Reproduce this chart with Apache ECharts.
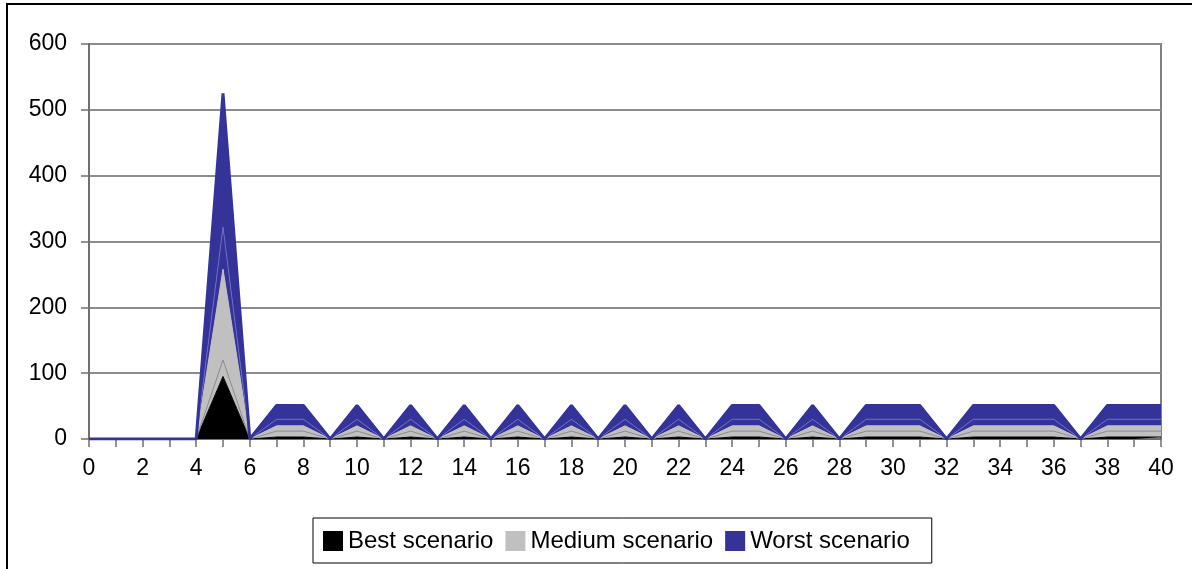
<!DOCTYPE html>
<html>
<head>
<meta charset="utf-8">
<script src="https://cdn.jsdelivr.net/npm/echarts@6/dist/echarts.min.js"></script>
<style>
  html, body { margin: 0; padding: 0; background: #fff; }
  #chart { width: 1192px; height: 569px; }
</style>
</head>
<body>
<div id="chart"></div>
<script>
// Categories along the x axis (periods 0..40)
const periods = ['0','1','2','3','4','5','6','7','8','9','10','11','12','13','14','15','16','17','18','19','20',
                 '21','22','23','24','25','26','27','28','29','30','31','32','33','34','35','36','37','38','39','40'];

// Stacked increments per band
const bestScenario   = [0,0,0,0,0,95,0,3,3,0,3,0,3,0,3,0,3,0,3,0,3,0,3,0,3,3,0,3,0,3,3,3,0,3,3,3,3,0,3,3,3];
const mediumLower    = [0,0,0,0,0,25,0,9,9,0,9,0,9,0,9,0,9,0,9,0,9,0,9,0,9,9,0,9,0,9,9,9,0,9,9,9,9,0,9,9,9];
const mediumUpper    = [0,0,0,0,0,138,0,8,8,0,8,0,8,0,8,0,8,0,8,0,8,0,8,0,8,8,0,8,0,8,8,8,0,8,8,8,8,0,8,8,8];
const worstLower     = [0,0,0,0,0,64,0,10,10,0,10,0,10,0,10,0,10,0,10,0,10,0,10,0,10,10,0,10,0,10,10,10,0,10,10,10,10,0,10,10,10];
const worstUpper     = [0,0,0,0,0,203,0,21,21,0,21,0,21,0,21,0,21,0,21,0,21,0,21,0,21,21,0,21,0,21,21,21,0,21,21,21,21,0,21,21,21];

// Y axis ticks
const yTicks = [0, 100, 200, 300, 400, 500, 600];

const FONT = 'Liberation Sans, Arial, sans-serif';
const BLACK = '#000000', GRAY = '#c0c0c0', BLUE = '#333399';

function band(name, values, fill, lineColor, lineWidth) {
  return {
    name: name,
    type: 'line',
    stack: 'total',
    data: values,
    showSymbol: false,
    symbol: 'none',
    itemStyle: { color: fill },
    lineStyle: { color: lineColor, width: lineWidth },
    areaStyle: { color: fill, opacity: 1 },
    emphasis: { disabled: true },
    animation: false
  };
}

const chart = echarts.init(document.getElementById('chart'), null, { renderer: 'canvas' });
chart.setOption({
  backgroundColor: '#ffffff',
  animation: false,
  textStyle: { fontFamily: FONT },
  graphic: [{
    type: 'rect',
    shape: { x: 7, y: 4, width: 1250, height: 620 },
    style: { fill: 'none', stroke: '#000', lineWidth: 2 },
    silent: true
  }],
  grid: {
    left: 89, right: 31, top: 44, bottom: 130,
    show: true, borderColor: '#808080', borderWidth: 2, backgroundColor: 'transparent'
  },
  legend: {
    data: ['Best scenario', 'Medium scenario', 'Worst scenario'],
    left: 313, top: 518,
    icon: 'rect', itemWidth: 20, itemHeight: 20, itemGap: 12,
    padding: [11, 22, 10, 10],
    borderColor: '#000', borderWidth: 1,
    textStyle: { fontFamily: FONT, fontSize: 24, lineHeight: 20, color: '#000' }
  },
  xAxis: {
    type: 'category',
    data: periods,
    boundaryGap: false,
    axisLine: { lineStyle: { color: '#707070', width: 2 } },
    axisTick: { show: true, interval: 0, length: 8, lineStyle: { color: '#707070', width: 1.5 } },
    axisLabel: { interval: 1, margin: 18, fontFamily: FONT, fontSize: 23, color: '#000' },
    splitLine: { show: false }
  },
  yAxis: {
    type: 'value',
    min: yTicks[0], max: yTicks[yTicks.length - 1], interval: 100,
    axisLine: { show: true, lineStyle: { color: '#707070', width: 2 } },
    axisTick: { show: true, length: 8, lineStyle: { color: '#707070', width: 1.5 } },
    axisLabel: { margin: 22, fontFamily: FONT, fontSize: 23, color: '#000' },
    splitLine: { lineStyle: { color: '#8c8c8c', width: 2 } }
  },
  series: [
    band('Best scenario', bestScenario, BLACK, BLACK, 1),
    band('Medium scenario', mediumLower, GRAY, '#8a8a8a', 1),
    band('Medium scenario (upper)', mediumUpper, GRAY, GRAY, 1),
    band('Worst scenario', worstLower, BLUE, '#6a6ac4', 1),
    band('Worst scenario (upper)', worstUpper, BLUE, BLUE, 3)
  ]
});
</script>
</body>
</html>
